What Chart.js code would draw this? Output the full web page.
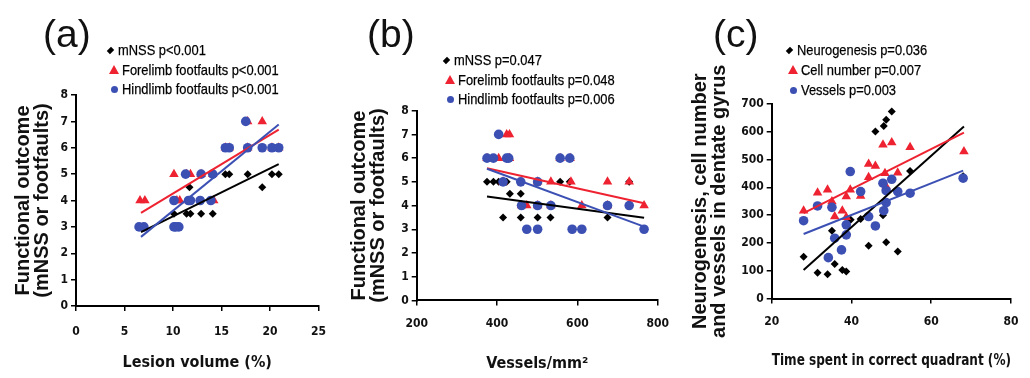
<!DOCTYPE html>
<html>
<head>
<meta charset="utf-8">
<script src="https://cdn.jsdelivr.net/npm/chart.js@4.4.0/dist/chart.umd.min.js"></script>
<style>
  body { margin: 0; background: #fff; width: 1030px; height: 378px; position: relative; overflow: hidden; font-family: 'Liberation Sans', Arial, sans-serif; }
  .panel { position: absolute; top: 0; height: 378px; }
  .tag { position: absolute; top: 14px; font-size: 39px; line-height: 1; color: #111; }
  .row { position: absolute; font-family: 'Liberation Sans', Arial, sans-serif; font-size: 15px; line-height: 18px; white-space: nowrap; color: #000;
         transform: scaleX(0.86); transform-origin: left center; -webkit-text-stroke: 0.25px #000; }
  .mk { position: absolute; }
  .mk.diamond { width: 5px; height: 5px; background: #000; transform: rotate(45deg) scale(0.9, 1.2); }
  .mk.triangle { width: 0; height: 0; border-left: 5px solid transparent; border-right: 5px solid transparent; border-bottom: 9px solid #ee2230; }
  .mk.circle { width: 7px; height: 7px; border-radius: 50%; background: #3c50b4; }
</style>
</head>
<body>
<canvas id="chartA" class="panel" style="left:0px" width="340" height="378"></canvas>
<canvas id="chartB" class="panel" style="left:340px" width="340" height="378"></canvas>
<canvas id="chartC" class="panel" style="left:680px" width="350" height="378"></canvas>
<div class="tag" style="left:43px">(a)</div>
<div class="tag" style="left:367px">(b)</div>
<div class="tag" style="left:713px">(c)</div>
<div id="legends"></div>
<script>
// ---- panel (a): lesion volume vs functional outcome ----
const aMnss = [[7, 3], [10.1, 3.5], [11.4, 3.5], [11.8, 3.5], [11.7, 4.5], [12.9, 3.5], [14.1, 3.5], [15.4, 5], [15.8, 5], [17.7, 5], [19.2, 4.5], [20.2, 5], [20.9, 5]];
const aFore = [[6.6, 4], [7.1, 4], [10.1, 5], [10.4, 4], [10.7, 4], [11.4, 5], [11.8, 5], [12.9, 5], [14.1, 5], [14.2, 4], [15.4, 6], [15.8, 6], [17.7, 7], [17.7, 6], [19.2, 7], [20.2, 6], [20.9, 6]];
const aHind = [[6.5, 3], [7, 3], [10.1, 3], [10.3, 3], [10.6, 3], [10.1, 4], [11.3, 5], [11.6, 4], [11.8, 4], [12.9, 5], [12.8, 4], [13.9, 4], [14.1, 5], [15.4, 6], [15.8, 6], [17.5, 7], [17.7, 6], [19.2, 6], [20.2, 6], [20.9, 6]];
const aFitMnss = [[6.7, 2.8], [20.9, 5.38]];
const aFitFore = [[6.7, 3.53], [20.9, 6.69]];
const aFitHind = [[6.7, 2.62], [20.9, 6.88]];
const aLabels = ['mNSS p<0.001', 'Forelimb footfaults p<0.001', 'Hindlimb footfaults p<0.001'];

// ---- panel (b): vessels vs functional outcome ----
const bMnss = [[375, 5], [391, 5], [404, 5], [424, 5], [415, 3.5], [432, 4.5], [459, 4.5], [459, 3.5], [501, 3.5], [533, 3.5], [557, 5], [581, 5], [675, 3.5], [729, 5]];
const bFore = [[375, 6], [404, 6], [415, 5], [424, 7], [431, 7], [431, 6], [461, 4], [474, 4], [501, 5], [501, 4], [534, 5], [534, 4], [557, 6], [582, 6], [584, 5], [611, 4], [675, 5], [675, 4], [729, 5], [766, 4]];
const bHind = [[375, 6], [391, 6], [404, 7], [424, 6], [429, 6], [415, 5], [459, 5], [461, 4], [474, 3], [501, 5], [501, 4], [501, 3], [534, 4], [557, 6], [581, 6], [587, 3], [611, 3], [675, 4], [729, 4], [766, 3]];
const bFitMnss = [[375, 4.38], [766, 3.49]];
const bFitFore = [[375, 5.57], [766, 4.1]];
const bFitHind = [[375, 5.55], [766, 3.11]];
const bLabels = ['mNSS p=0.047', 'Forelimb footfaults p=0.048', 'Hindlimb footfaults p=0.006'];

// ---- panel (c): time in correct quadrant vs dentate gyrus measures ----
const cNeuro = [[28, 150], [31.5, 93], [34, 87], [35.8, 124], [35.1, 244], [37.7, 103], [38.7, 97], [39.8, 283], [42.3, 286], [44.3, 190], [46, 601], [47.9, 300], [48.1, 621], [48.7, 643], [50.1, 673], [48.7, 202], [51.6, 169], [54.7, 459], [68, 440]];
const cCells = [[28, 316], [31.5, 381], [34, 391], [35.1, 349], [35.8, 295], [37.7, 316], [38.7, 367], [38.7, 292], [39.7, 391], [42.3, 369], [44.3, 436], [44.3, 484], [46, 477], [47.9, 553], [48.4, 451], [48.7, 403], [50.1, 561], [51.6, 453], [54.7, 544], [68.2, 529]];
const cVessels = [[28, 280], [31.5, 333], [34.2, 147], [35.1, 328], [35.8, 217], [37.5, 175], [38.7, 229], [38.7, 265], [39.7, 457], [42.3, 385], [44.3, 295], [46, 261], [47.9, 415], [48.1, 316], [48.7, 345], [48.7, 388], [50.1, 429], [51.6, 385], [54.7, 379], [68, 433]];
const cFitNeuro = [[28, 103], [68.2, 619]];
const cFitCells = [[28, 307], [68.2, 597]];
const cFitVessels = [[28, 232], [68, 460]];
const cLabels = ['Neurogenesis p=0.036', 'Cell number p=0.007', 'Vessels p=0.003'];

const BLACK = '#000000';
const RED = '#ee2230';
const BLUE = '#3c50b4';
const narrow = "'Liberation Sans Narrow', 'DejaVu Sans Condensed', 'Liberation Sans', sans-serif";
const wide = "'Liberation Sans', Arial, sans-serif";

const toXY = arr => arr.map(p => ({ x: p[0], y: p[1] }));

function pts(data, color, style, radius, order) {
  return {
    type: 'scatter', data: toXY(data), order: order,
    pointStyle: style, pointRadius: radius, pointBackgroundColor: color,
    pointBorderColor: color, pointBorderWidth: 0, showLine: false
  };
}

function fit(data, color, order) {
  return {
    type: 'line', data: toXY(data), order: order,
    borderColor: color, borderWidth: 2, pointRadius: 0, fill: false
  };
}

function axisStyle() {
  return {
    border: { display: true, color: '#000', width: 2 },
    grid: { drawOnChartArea: false, drawTicks: true, tickLength: 5, color: '#000', lineWidth: 1.5 }
  };
}

function makeChart(id, p) {
  return new Chart(document.getElementById(id), {
    type: 'scatter',
    data: {
      datasets: [
        fit(p.fits[2], BLUE, 0),
        fit(p.fits[1], RED, 1),
        fit(p.fits[0], BLACK, 2),
        pts(p.series[2], BLUE, 'circle', 4.8, 3),
        pts(p.series[1], RED, 'triangle', 5.5, 4),
        pts(p.series[0], BLACK, 'rectRot', 4, 5)
      ]
    },
    options: {
      responsive: false,
      animation: false,
      layout: { padding: p.padding },
      plugins: { legend: { display: false }, tooltip: { enabled: false } },
      scales: {
        x: Object.assign(axisStyle(), {
          type: 'linear', min: p.x[0], max: p.x[1],
          ticks: { stepSize: p.x[2], color: '#111', font: { family: narrow, size: 12, weight: 'bold' }, padding: p.xTickPad },
          title: { display: true, text: p.xTitle, color: '#111', font: { family: narrow, size: 16, weight: 'bold', lineHeight: 1.2 }, padding: { top: 0, bottom: p.xTitlePad } },
          afterFit: s => { s.height = p.xHeight; }
        }),
        y: Object.assign(axisStyle(), {
          type: 'linear', min: p.y[0], max: p.y[1],
          ticks: { stepSize: p.y[2], color: '#111', font: { family: narrow, size: 12, weight: 'bold' }, padding: 3 },
          title: { display: true, text: p.yTitle, color: '#111', font: { family: wide, size: 20, weight: 'bold', lineHeight: 0.95 }, padding: { top: p.yTitlePad, bottom: 0 } },
          afterFit: s => { s.width = p.yWidth; }
        })
      }
    }
  });
}

const funcTitle = ['Functional outcome', '(mNSS or footfaults)'];

makeChart('chartA', {
  series: [aMnss, aFore, aHind], fits: [aFitMnss, aFitFore, aFitHind],
  x: [0, 25, 5], y: [0, 8, 1],
  xTitle: 'Lesion volume (%)', yTitle: funcTitle,
  padding: { left: 3, right: 19, top: 95, bottom: 0 },
  yWidth: 73, xHeight: 72, xTickPad: 14, xTitlePad: 6, yTitlePad: 10.5
});

makeChart('chartB', {
  series: [bMnss, bFore, bHind], fits: [bFitMnss, bFitFore, bFitHind],
  x: [200, 800, 200], y: [0, 8, 1],
  xTitle: 'Vessels/mm²', yTitle: funcTitle,
  padding: { left: 3, right: 14, top: 110.7, bottom: 0 },
  yWidth: 73.7, xHeight: 77.6, xTickPad: 11, xTitlePad: 5, yTitlePad: 6.5
});

makeChart('chartC', {
  series: [cNeuro, cCells, cVessels], fits: [cFitNeuro, cFitCells, cFitVessels],
  x: [20, 80, 20], y: [0, 700, 100],
  xTitle: 'Time spent in correct quadrant (%)', yTitle: ['Neurogenesis, cell number', 'and vessels in dentate gyrus'],
  padding: { left: 3, right: 10, top: 104, bottom: 0 },
  yWidth: 88.7, xHeight: 79.5, xTickPad: 11.5, xTitlePad: 8, yTitlePad: 8
});

// legends: marker + text rows, placed to the upper left of each plot
const legendSpots = [
  { labels: aLabels, x: 110, y: [50, 70, 89] },
  { labels: bLabels, x: 446, y: [60, 80, 99] },
  { labels: cLabels, x: 789, y: [50, 70, 90] }
];
const shapes = ['diamond', 'triangle', 'circle'];
const holder = document.getElementById('legends');
legendSpots.forEach(spot => {
  spot.labels.forEach((text, i) => {
    const mk = document.createElement('div');
    mk.className = 'mk ' + shapes[i];
    const cx = spot.x + (i === 0 ? 0 : 4);
    if (i === 0) { mk.style.left = (cx - 2.5) + 'px'; mk.style.top = (spot.y[i] - 2.5) + 'px'; }
    if (i === 1) { mk.style.left = (cx - 5) + 'px'; mk.style.top = (spot.y[i] - 5) + 'px'; }
    if (i === 2) { mk.style.left = (cx - 3.5) + 'px'; mk.style.top = (spot.y[i] - 3.5) + 'px'; }
    holder.appendChild(mk);
    const row = document.createElement('div');
    row.className = 'row';
    row.textContent = text;
    row.style.left = (spot.x + (i === 0 ? 8 : 12)) + 'px';
    row.style.top = (spot.y[i] - 9) + 'px';
    holder.appendChild(row);
  });
});
</script>
</body>
</html>
